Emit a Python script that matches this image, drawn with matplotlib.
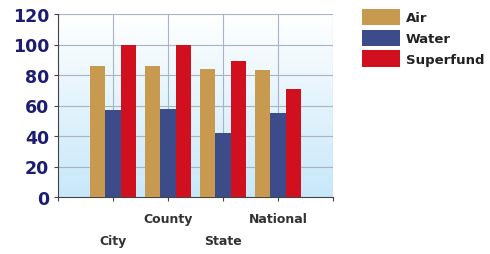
import matplotlib.pyplot as plt
import numpy as np

categories = ['City', 'County', 'State', 'National']
series_names = ['Air', 'Water', 'Superfund']
air = [86, 86, 84, 83]
water = [57, 58, 42, 55]
superfund = [100, 100, 89, 71]
colors = ['#c89a50', '#3c4c8a', '#d0101e']

fig = plt.figure(figsize=(4.9, 2.55), dpi=100)
ax = fig.add_axes([58 / 490, 1 - 198 / 255, 275 / 490, 183 / 255])

# background gradient, white at top to light blue at bottom
grad = np.linspace(0, 1, 256).reshape(-1, 1)
top = np.array([1.0, 1.0, 1.0])
bot = np.array([0.78, 0.91, 0.98])
img = top + (bot - top) * grad[..., None]
ax.imshow(img, extent=[0, 5, 0, 120], aspect='auto', origin='upper', zorder=0)

x = np.arange(1, len(categories) + 1)
w = 0.28
for i, (vals, c) in enumerate(zip([air, water, superfund], colors)):
    ax.bar(x + (i - 1) * w, vals, width=w, color=c, label=series_names[i], zorder=3)

ax.set_xlim(0, 5)
ax.set_ylim(0, 120)
ax.set_yticks(range(0, 121, 20))
ax.set_xticks(range(0, 6))
ax.set_xticklabels([])
ax.grid(True, color='#a8b4c4', linewidth=0.8, zorder=1)
for s in ['top', 'right']:
    ax.spines[s].set_visible(False)
ax.spines['left'].set_color('#444444')
ax.spines['bottom'].set_color('#444444')
ax.tick_params(axis='y', labelsize=12.5, labelcolor='#1c1c70', length=3, color='#444444')
ax.tick_params(axis='x', length=3, color='#444444')
for lab in ax.get_yticklabels():
    lab.set_fontweight('bold')

for i, cat in enumerate(categories):
    yoff = -0.12 if i % 2 else -0.235
    ax.text(x[i], yoff, cat, transform=ax.get_xaxis_transform(), ha='center', va='center',
            fontsize=9, fontweight='bold', color='#333333')

leg = ax.legend(loc='upper left', bbox_to_anchor=(362 / 490, 1 - 10 / 255), bbox_transform=fig.transFigure,
                frameon=False, prop={'size': 9.5, 'weight': 'bold'}, handlelength=2.9, handleheight=1.5,
                handletextpad=0.4, labelspacing=0.35, borderaxespad=0, borderpad=0)
for t in leg.get_texts():
    t.set_color('#222222')

fig.savefig('out.png', dpi=100)
